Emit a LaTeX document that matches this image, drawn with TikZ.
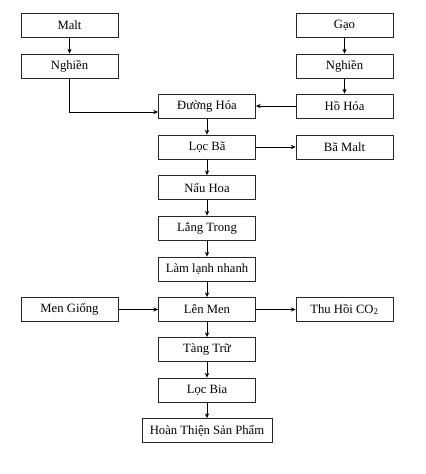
\documentclass[tikz,border=0pt]{standalone}
\usepackage{fontspec}
\setmainfont{Liberation Serif}
\usetikzlibrary{arrows.meta}
\begin{document}
\begin{tikzpicture}[
      x=0.75pt, y=-0.75pt,
      every node/.style={font=\fontsize{9.5}{11.5}\selectfont},
      stage/.style={rectangle, draw=black!85, line width=0.6pt, minimum width=72.75pt, minimum height=18pt, inner sep=1pt, align=center},
      wide/.style={stage, minimum width=97.5pt},
      msg/.style={line width=0.5pt, -{Stealth[length=3.6pt, width=3.2pt]}}
  ]
    \useasboundingbox (0,0) rectangle (425,474);
    % nguyen lieu
    \node[stage] (malt) at (69.5,25) {Malt};
    \node[stage] (nghienL) at (69.5,66) {Nghiền};
    \node[stage] (gao) at (344.5,25) {Gạo};
    \node[stage] (nghienR) at (344.5,66) {Nghiền};
    \node[stage] (hohoa) at (344.5,106) {Hồ Hóa};
    % day chuyen chinh
    \node[stage] (duonghoa) at (207,106) {Đường Hóa};
    \node[stage] (locba) at (207,147) {Lọc Bã};
    \node[stage] (bamalt) at (344.5,147) {Bã Malt};
    \node[stage] (nauhoa) at (207,187.5) {Nấu Hoa};
    \node[stage] (langtrong) at (207,228) {Lắng Trong};
    \node[stage] (lamlanh) at (207,269) {Làm lạnh nhanh};
    \node[stage] (lenmen) at (207,309.5) {Lên Men};
    \node[stage] (mengiong) at (69.5,309.5) {Men Giống};
    \node[stage] (thuhoi) at (344.5,309.5) {Thu Hồi CO\textsubscript{2}};
    \node[stage] (tangtru) at (207,349.5) {Tàng Trữ};
    \node[stage] (locbia) at (207,390) {Lọc Bia};
    \node[wide] (hoanthien) at (207,430.5) {Hoàn Thiện Sản Phẩm};

    \draw[msg] (malt) -- (nghienL);
    \draw[msg] (gao) -- (nghienR);
    \draw[msg] (nghienR) -- (hohoa);
    \draw[msg] (nghienL.south) |- ([yshift=-4.5pt]duonghoa.west);
    \draw[msg] (hohoa) -- (duonghoa);
    \foreach \a/\b in {duonghoa/locba, locba/nauhoa, nauhoa/langtrong, langtrong/lamlanh, lamlanh/lenmen, lenmen/tangtru, tangtru/locbia, locbia/hoanthien} {
      \draw[msg] (\a) -- (\b);
    }
    \draw[msg] (locba) -- (bamalt);
    \draw[msg] (mengiong) -- (lenmen);
    \draw[msg] (lenmen) -- (thuhoi);
  \end{tikzpicture}
\end{document}
